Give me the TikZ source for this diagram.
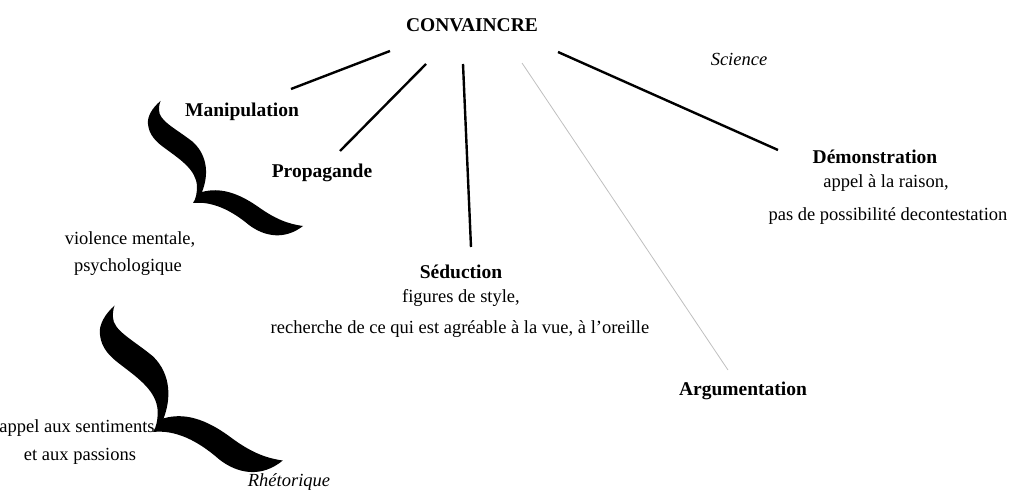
\documentclass[tikz,border=0pt]{standalone}
\usepackage{fontspec}
\setmainfont{Liberation Serif}
\usepackage{tikz}

\tikzset{
	titre/.style={font=\bfseries\fontsize{19.5}{23}\selectfont, anchor=base, inner sep=0pt},
	texte/.style={font=\fontsize{18.5}{23}\selectfont, anchor=base, inner sep=0pt},
	domaine/.style={font=\itshape\fontsize{18.5}{23}\selectfont, anchor=base, inner sep=0pt},
	trait/.style={line width=2.4pt},
	traitgris/.style={line width=0.8pt, color=black!25}
}

\newcommand{\accolade}{
	(-32.5,-102) .. controls (-41,-95) and (-46,-86) .. (-45,-79)
	.. controls (-44,-68) and (-37,-61) .. (-27,-54)
	.. controls (-12,-43) and (3,-33) .. (4,-17)
	.. controls (4,-10) and (3,-4) .. (0,0)
	.. controls (19,-2) and (38,7) .. (56,22)
	.. controls (72,34) and (92,37) .. (110,23)
	.. controls (95,21) and (82,16) .. (64,3)
	.. controls (45,-10) and (27,-16) .. (9,-11)
	.. controls (15,-26) and (16,-46) .. (0,-61)
	.. controls (-18,-75) and (-34,-82) .. (-34,-93)
	.. controls (-34,-97) and (-33.5,-100) .. (-32.5,-102) -- cycle
}

\begin{document}
\begin{tikzpicture}[x=1pt, y=-1pt]
	\useasboundingbox (0,0) rectangle (1010,497);

	\node[titre] (conv) at (472,32) {CONVAINCRE};
	\node[domaine] (science) at (739,66) {Science};
	\node[titre] (manip) at (242,117) {Manipulation};
	\node[titre] (propa) at (322,178) {Propagande};
	\node[titre] (demo) at (875,164) {Démonstration};
	\node[texte] (demo1) at (886,188) {appel à la raison,};
	\node[texte] (demo2) at (888,221) {pas de possibilité decontestation};
	\node[texte] (viol1) at (130,245) {violence mentale,};
	\node[texte] (viol2) at (128,272) {psychologique};
	\node[titre] (sedu) at (461,279) {Séduction};
	\node[texte] (sedu1) at (461,302) {figures de style,};
	\node[texte] (sedu2) at (460,334) {recherche de ce qui est agréable à la vue, à l’oreille};
	\node[texte] (sent1) at (77,432) {appel aux sentiments};
	\node[texte] (sent2) at (80,460) {et aux passions};
	\node[titre] (argu) at (743,395) {Argumentation};
	\node[domaine] (rheto) at (289,486) {Rhétorique};

	\coordinate (c-manip-h) at (390,51);
	\coordinate (c-manip-b) at (291,89);
	\coordinate (c-propa-h) at (426,64);
	\coordinate (c-propa-b) at (340,151);
	\coordinate (c-sedu-h) at (463,64);
	\coordinate (c-sedu-b) at (471,247);
	\coordinate (c-argu-h) at (522,63);
	\coordinate (c-argu-b) at (728,370);
	\coordinate (c-demo-h) at (558,52);
	\coordinate (c-demo-b) at (778,150);

	\draw[trait] (c-manip-h) -- (c-manip-b);
	\draw[trait] (c-propa-h) -- (c-propa-b);
	\draw[trait] (c-sedu-h) -- (c-sedu-b);
	\draw[traitgris] (c-argu-h) -- (c-argu-b);
	\draw[trait] (c-demo-h) -- (c-demo-b);

	\begin{scope}[shift={(193,203)}]
		\fill \accolade;
	\end{scope}
	\begin{scope}[shift={(153,432)}, xscale=1.18, yscale=1.24]
		\fill \accolade;
	\end{scope}
\end{tikzpicture}
\end{document}
